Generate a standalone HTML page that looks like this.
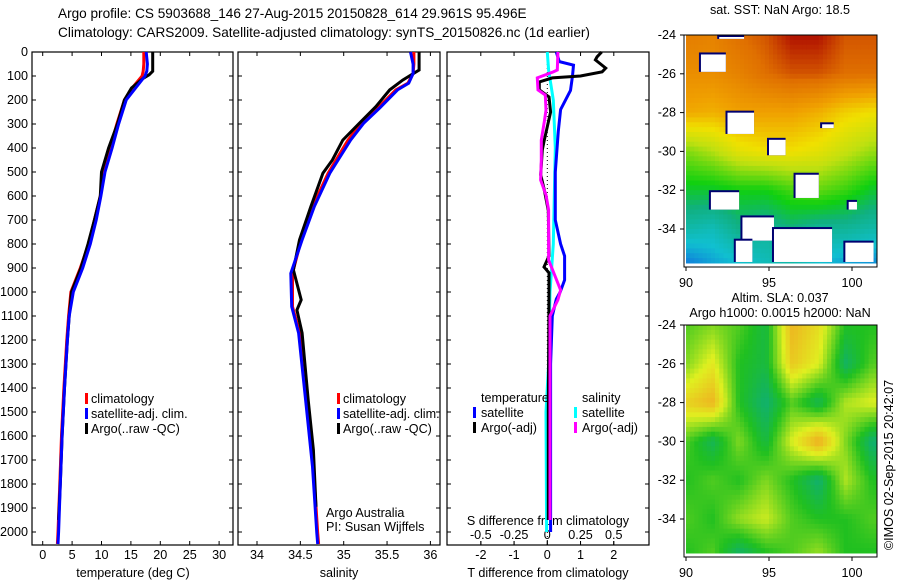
<!DOCTYPE html>
<html><head><meta charset="utf-8"><style>
body{margin:0;background:#fff;}
svg text{font-family:"Liberation Sans",sans-serif;font-size:12.6px;fill:#000;}
svg text.tt{font-size:13.6px;}
</style></head><body>
<svg id="c" width="900" height="580" xmlns="http://www.w3.org/2000/svg"></svg>
<script>
// ---- data ----
const tDepth=[0,50,80,100,150,200,300,400,500,600,700,800,900,1000,1100,1200,1400,1600,1800,2000,2050];
const tClim=[17.2,17.2,17.1,16.9,15.2,13.9,12.6,11.5,10.3,9.8,8.8,7.8,6.4,4.8,4.4,4.1,3.6,3.2,2.9,2.6,2.5];
const tSat=[17.6,17.8,17.7,17.4,15.8,14.2,12.9,11.8,10.6,9.9,9.1,8.1,6.8,5.2,4.5,4.2,3.7,3.3,3.0,2.7,2.6];
const aDepth=[0,80,95,110,150,200,300,400,500,600,700,800,900,1000,1100,1200,1400,1600,1800,1950];
const tArgo=[18.7,18.7,18.1,17.1,15.1,13.9,12.7,11.2,10.0,9.8,8.8,7.7,6.5,4.9,4.5,4.2,3.7,3.3,3.0,2.7];
const sDepth=[0,50,90,130,158,228,297,367,505,645,783,922,1061,1171,1450,1728,2004,2050];
const sClim=[35.81,35.81,35.80,35.74,35.60,35.41,35.20,35.05,34.82,34.64,34.51,34.41,34.41,34.49,34.57,34.65,34.70,34.71];
const sSat=[35.77,35.80,35.80,35.75,35.62,35.43,35.23,35.08,34.84,34.66,34.52,34.39,34.40,34.48,34.56,34.64,34.69,34.70];
const saDepth=[0,75,117,158,228,297,367,450,505,645,783,908,1033,1075,1171,1450,1658,1895];
const sArgo=[35.87,35.87,35.68,35.53,35.37,35.18,34.99,34.87,34.76,34.62,34.49,34.42,34.51,34.46,34.52,34.59,34.65,34.68];
const dtDepth=[0,40,55,100,160,240,330,500,700,800,850,950,1000,1030,1100,1300,2000];
const dtSat=[0.27,0.36,0.79,0.76,0.7,0.4,0.33,0.24,0.24,0.4,0.52,0.52,0.39,0.27,0.15,0.1,0.1];
const daDepth=[0,20,33,67,83,100,108,125,158,187,250,367,408,512,575,660,850,896,920,1000,1500,1950];
const dtArgo=[1.64,1.5,1.45,1.76,1.65,1.0,0.15,-0.24,-0.24,0.05,0.1,-0.09,-0.15,-0.2,-0.09,0.03,0.05,-0.1,0.05,0.05,0.03,0.03];
const dsDepth=[0,75,200,400,800,1000,1300,1500,2000];
const dsSat=[0,0.01,0.045,0.06,0.045,0.02,0.01,-0.01,-0.005];
const dsaDepth=[0,75,83,108,158,179,242,283,367,450,533,596,658,867,908,992,1033,1100,1400,1950];
const dsArgo=[0.08,0.075,0.045,-0.075,-0.07,-0.015,-0.01,-0.02,-0.045,-0.045,-0.05,-0.01,0.01,0.01,0.04,0.1,0.08,0.02,0.02,0.02];
const depthTicks=[0,100,200,300,400,500,600,700,800,900,1000,1100,1200,1300,1400,1500,1600,1700,1800,1900,2000];
const tTicks=[0,5,10,15,20,25,30];
const sTicks=[34,34.5,35,35.5,36];
const dtTicks=[-2,-1,0,1,2];
const dsTicks=[-0.5,-0.25,0,0.25,0.5];
const dsTickLabels=["-0.5","-0.25","0","0.25","0.5"];
const mapLons=[90,91.6,93.2,94.8,96.4,98,99.6,101.2];
const mapLats=[-24,-26,-28,-30,-32,-34,-35.7];
const sstGrid=[
[0.86,0.85,0.88,0.9,0.95,0.95,0.9,0.9],
[0.83,0.83,0.85,0.88,0.9,0.9,0.88,0.88],
[0.79,0.78,0.8,0.8,0.8,0.78,0.74,0.72],
[0.6,0.64,0.7,0.72,0.72,0.7,0.66,0.62],
[0.5,0.5,0.52,0.52,0.56,0.58,0.55,0.5],
[0.4,0.38,0.44,0.42,0.45,0.42,0.42,0.4],
[0.28,0.32,0.35,0.38,0.4,0.35,0.32,0.3]];
const slaGrid=[
[0.55,0.6,0.55,0.45,0.85,0.75,0.5,0.5],
[0.6,0.72,0.5,0.45,0.8,0.7,0.4,0.55],
[0.78,0.85,0.5,0.38,0.55,0.42,0.65,0.7],
[0.55,0.42,0.6,0.45,0.7,0.88,0.6,0.38],
[0.5,0.55,0.5,0.6,0.5,0.38,0.65,0.5],
[0.55,0.5,0.62,0.68,0.55,0.5,0.5,0.55],
[0.5,0.55,0.4,0.5,0.55,0.62,0.5,0.5]];
const sstMasks=[[90.9,-24.9,92.4,-25.9],[92.5,-27.9,94.1,-29.1],[95.0,-29.3,96.0,-30.2],[91.5,-32.0,93.2,-33.0],[93.4,-33.3,95.3,-34.6],[93.0,-34.5,94.0,-35.7],[95.3,-33.9,98.8,-35.7],[96.6,-31.1,98.0,-32.4],[99.6,-34.6,101.3,-35.7],[99.8,-32.5,100.3,-33.0],[98.2,-28.5,98.9,-28.8],[92.0,-24.0,93.5,-24.2]];
// ---- helpers ----
const S=document.getElementById('c');const NS='http://www.w3.org/2000/svg';
function el(t,a,p){const e=document.createElementNS(NS,t);for(const k in a)e.setAttribute(k,a[k]);(p||S).appendChild(e);return e;}
function txt(x,y,s,anchor,name){const e=el('text',{x:x,y:y,'text-anchor':anchor||'start'});e.textContent=s;


return e;}
const Y=d=>52+d*0.24;
const xT=v=>42.7+v*5.88, xS=v=>257+(v-34)*86.7, xDT=v=>547.3+v*33.2, xDS=v=>547.3+v*133;
function line(ds,vs,fx,col,name,w){const pts=ds.map((d,i)=>fx(vs[i]).toFixed(1)+','+Y(d).toFixed(1)).join(' ');
const e=el('polyline',{points:pts,fill:'none',stroke:col,'stroke-width':w||3});

}
function frame(x0,x1,name){const r=el('rect',{x:x0,y:52,width:x1-x0,height:493,fill:'none',stroke:'#000','stroke-width':1.2});


depthTicks.forEach(d=>{el('line',{x1:x0,x2:x0+4,y1:Y(d),y2:Y(d),stroke:'#000'});el('line',{x1:x1-4,x2:x1,y1:Y(d),y2:Y(d),stroke:'#000'});});}
function xticks(ticks,fx,labels,y,name){ticks.forEach((v,i)=>{el('line',{x1:fx(v),x2:fx(v),y1:545,y2:541,stroke:'#000'});el('line',{x1:fx(v),x2:fx(v),y1:52,y2:56,stroke:'#000'});
txt(fx(v),y,labels?labels[i]:String(v),'middle',name);});}
// titles
txt(58,18,'Argo profile: CS 5903688_146 27-Aug-2015 20150828_614 29.961S 95.496E','start','title-line-1').setAttribute('class','tt');
txt(58,37,'Climatology: CARS2009. Satellite-adjusted climatology: synTS_20150826.nc (1d earlier)','start','title-line-2').setAttribute('class','tt');
// panel 1
frame(32,233,'temperature-panel');
depthTicks.forEach(d=>txt(28,Y(d)+4,String(d),'end','depth-tick-label'));
xticks(tTicks,xT,null,559,'temperature-tick-label');
txt(133,577,'temperature (deg C)','middle','x-axis-title-temperature');
line(tDepth,tClim,xT,'#f00','temperature-climatology-line');
line(aDepth,tArgo,xT,'#000','temperature-argo-line');
line(tDepth,tSat,xT,'#00f','temperature-satellite-line');
// panel 2
frame(238,440,'salinity-panel');
xticks(sTicks,xS,null,559,'salinity-tick-label');
txt(339,577,'salinity','middle','x-axis-title-salinity');
line(sDepth,sClim,xS,'#f00','salinity-climatology-line');
line(saDepth,sArgo,xS,'#000','salinity-argo-line');
line(sDepth,sSat,xS,'#00f','salinity-satellite-line');
txt(326,517,'Argo Australia','start','credit-argo-australia');
txt(326,531,'PI: Susan Wijffels','start','credit-pi');
// legends 1 & 2
[['climatology','#f00'],['satellite-adj. clim.','#00f'],['Argo(..raw -QC)','#000']].forEach((l,i)=>{
 [87,339].forEach(px=>{const r=el('rect',{x:px-2,y:393+i*15,width:3,height:11,fill:l[1]});
 
 
 txt(px+4,403+i*15,l[0],'start','legend-entry');});});
// panel 3
frame(447,649,'difference-panel');
el('line',{x1:547.3,x2:547.3,y1:52,y2:545,stroke:'#000','stroke-dasharray':'1,3'});
dtTicks.forEach(v=>el('line',{x1:xDT(v),x2:xDT(v),y1:545,y2:541,stroke:'#000'}));
dtTicks.forEach(v=>txt(xDT(v),559,String(v),'middle','t-diff-tick-label'));
dsTicks.forEach(v=>el('line',{x1:xDS(v),x2:xDS(v),y1:52,y2:56,stroke:'#000'}));
dsTicks.forEach(v=>el('line',{x1:xDS(v),x2:xDS(v),y1:545,y2:541,stroke:'#000'}));
dsTicks.forEach((v,i)=>txt(xDS(v),539,dsTickLabels[i],'middle','s-diff-tick-label'));
txt(548,525,'S difference from climatology','middle','s-diff-axis-title');
txt(548,577,'T difference from climatology','middle','t-diff-axis-title');
line(dsDepth,dsSat,xDS,'#00ffff','salinity-satellite-diff-line');
line(dtDepth,dtSat,xDT,'#00f','temperature-satellite-diff-line');
line(daDepth,dtArgo,xDT,'#000','temperature-argo-diff-line');
line(dsaDepth,dsArgo,xDS,'#f0f','salinity-argo-diff-line');
txt(481,402,'temperature','start','legend-temperature-heading');
txt(582,402,'salinity','start','legend-salinity-heading');
[['satellite','#00f','#0ff'],['Argo(-adj)','#000','#f0f']].forEach((l,i)=>{
 const a=el('rect',{x:473,y:407+i*15,width:3,height:11,fill:l[1]});
 
 
 txt(481,417+i*15,l[0],'start','legend-entry');
 const b=el('rect',{x:574,y:407+i*15,width:3,height:11,fill:l[2]});
 
 
 txt(582,417+i*15,l[0],'start','legend-entry');});
// ---- maps ----
function interp(stops,v){for(let i=1;i<stops.length;i++){if(v<=stops[i][0]){const a=stops[i-1],b=stops[i],t=(v-a[0])/(b[0]-a[0]);
return 'rgb('+[1,2,3].map(k=>Math.round(a[k]+(b[k]-a[k])*t)).join(',')+')';}}const l=stops[stops.length-1];return 'rgb('+l[1]+','+l[2]+','+l[3]+')';}
const jet=[[0,0,0,140],[0.25,16,96,224],[0.35,16,192,208],[0.45,16,176,128],[0.52,16,208,16],[0.65,192,224,16],[0.72,240,224,0],[0.8,240,160,0],[0.88,224,112,0],[0.95,176,16,0],[1,140,0,0]];
const slaMap=[[0,16,160,144],[0.38,16,176,112],[0.5,32,192,32],[0.7,224,240,32],[0.88,240,170,32],[1,240,140,32]];
function grid(g,lon,lat){let i=0;while(i<mapLons.length-2&&mapLons[i+1]<lon)i++;let j=0;while(j<mapLats.length-2&&mapLats[j+1]>lat)j++;
const tx=Math.min(1,Math.max(0,(lon-mapLons[i])/(mapLons[i+1]-mapLons[i]))),ty=Math.min(1,Math.max(0,(lat-mapLats[j])/(mapLats[j+1]-mapLats[j])));
return g[j][i]*(1-tx)*(1-ty)+g[j][i+1]*tx*(1-ty)+g[j+1][i]*(1-tx)*ty+g[j+1][i+1]*tx*ty;}
function drawMap(y0,g,cmap,name){const gx=el('g',{});


const X=l=>686+(l-90)*16.6,YY=l=>y0+(-24-l)*19.4;const st=0.25;
for(let lon=90;lon<101.5;lon+=st)for(let lat=-24;lat>-35.7;lat-=st){
 el('rect',{x:X(lon).toFixed(1),y:YY(lat).toFixed(1),width:(st*16.6+0.6).toFixed(1),height:(st*19.4+0.6).toFixed(1),fill:interp(cmap,grid(g,lon+st/2,lat-st/2))},gx);}
return [X,YY,gx];}
function mapFrame(y0,X,YY,name){const r=el('rect',{x:684,y:y0,width:193,height:232,fill:'none',stroke:'#000'});


[-24,-26,-28,-30,-32,-34].forEach(l=>{el('line',{x1:680,x2:684,y1:YY(l),y2:YY(l),stroke:'#000'});txt(676,YY(l)+4,String(l),'end','latitude-tick-label');});
[90,95,100].forEach(l=>{el('line',{x1:X(l),x2:X(l),y1:y0+232,y2:y0+236,stroke:'#000'});txt(X(l),y0+252,String(l),'middle','longitude-tick-label');});}
let [X1,Y1,g1]=drawMap(35,sstGrid,jet,'sst-map');
sstMasks.forEach(m=>{el('rect',{x:X1(m[0])-2,y:Y1(m[1]),width:X1(m[2])-X1(m[0])+2,height:Y1(m[3])-Y1(m[1]),fill:'#000070'},g1);
el('rect',{x:X1(m[0]),y:Y1(m[1])+2,width:X1(m[2])-X1(m[0]),height:Y1(m[3])-Y1(m[1])-2,fill:'#fff'},g1);});
el('rect',{x:877,y:30,width:20,height:245,fill:'#fff'});
mapFrame(35,X1,Y1,'sst-map-frame');
txt(780,14,'sat. SST: NaN Argo: 18.5','middle','sst-map-title');
let [X2,Y2,g2]=drawMap(325,slaGrid,slaMap,'sla-map');
el('rect',{x:877,y:320,width:8,height:245,fill:'#fff'});
mapFrame(325,X2,Y2,'sla-map-frame');
txt(780,302,'Altim. SLA: 0.037','middle','sla-map-title');
txt(780,317,'Argo h1000: 0.0015 h2000: NaN','middle','sla-map-subtitle');
const r=txt(0,0,'©IMOS 02-Sep-2015 20:42:07','middle','timestamp');r.setAttribute('transform','translate(893,465) rotate(-90)');
</script>
</body></html>
